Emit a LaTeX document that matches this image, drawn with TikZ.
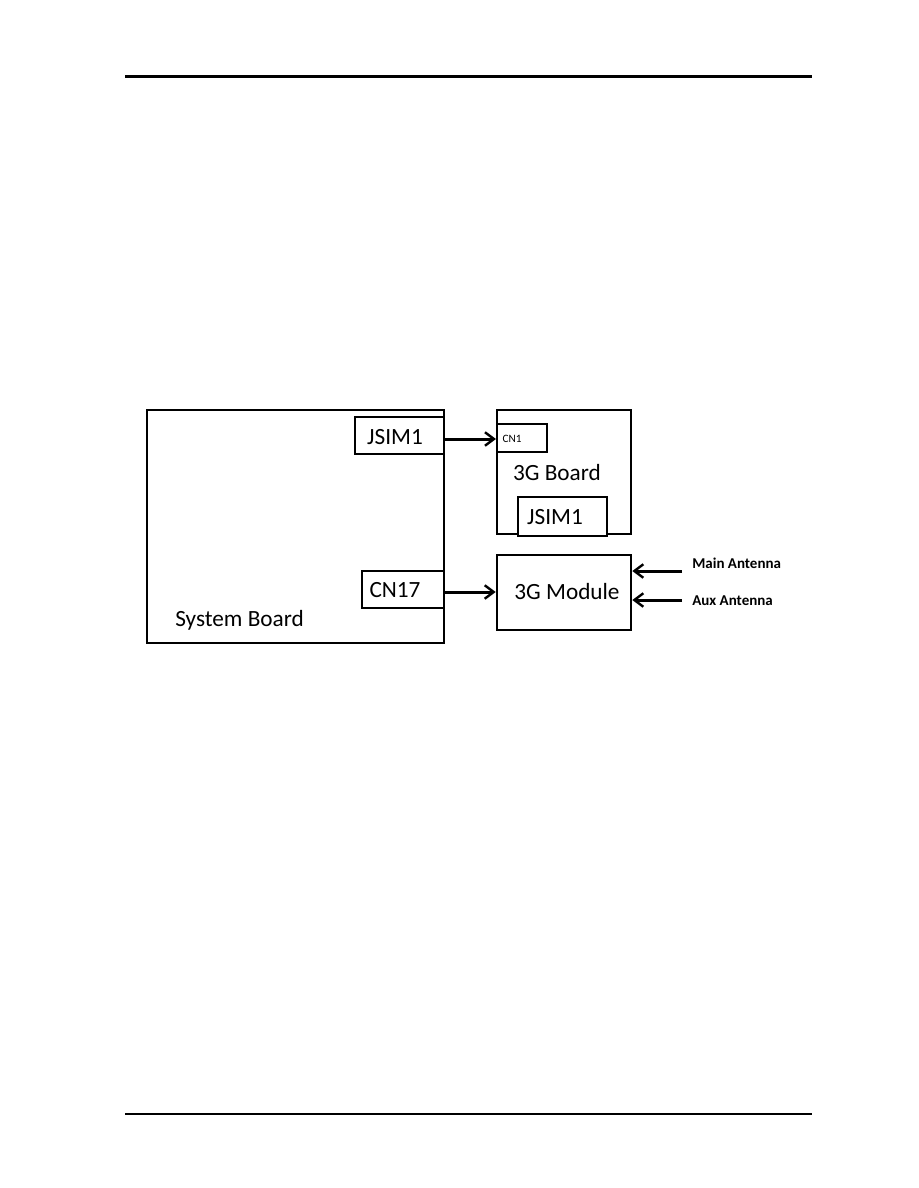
\documentclass[tikz,border=0pt]{standalone}
\usepackage{fontspec}
\setmainfont{Carlito}
\usetikzlibrary{arrows.meta}
\begin{document}
\begin{tikzpicture}[x=0.6667pt,y=-0.6667pt,font=\fontsize{15.5}{17}\selectfont,
  board/.style={draw,line width=1.8pt,inner sep=0pt},
  conn/.style={draw,line width=1.4pt,inner sep=0pt,fill=white},
  link/.style={-{Straight Barb[length=6pt,width=9pt,line width=1.6pt]},line width=2pt}]
\useasboundingbox (0,0) rectangle (918,1188);
\draw[line width=2pt] (125,76.5)--(812,76.5); \draw[line width=0.8pt] (125,1114)--(812,1114);
% system board side
\node[board,minimum width=198pt,minimum height=155.3pt] (sys) at (295.5,526.5) {};
\node[conn,minimum width=59.3pt,minimum height=24.7pt] (sysjsim) at (399.5,435.5) {};
\node (sysjsimtxt) at (395,437) {JSIM1};
\node[conn,minimum width=54.7pt,minimum height=24.7pt] (cn17) at (403,589.5) {};
\node (cn17txt) at (395,590) {CN17};
\node[anchor=west] (systxt) at (170,620) {System Board};
% 3G side
\node[board,minimum width=89.3pt,minimum height=82.7pt] (gboard) at (564,472) {};
\node[conn,minimum width=33.3pt,minimum height=18.7pt] (cn1) at (522,438) {};
\node[font=\fontsize{7.5}{8}\selectfont] (cn1txt) at (512,439) {CN1};
\node (gboardtxt) at (557,473) {3G Board};
\node[conn,minimum width=59.3pt,minimum height=26pt] (gjsim) at (562.5,516.5) {};
\node (gjsimtxt) at (555,517) {JSIM1};
\node[board,minimum width=89.3pt,minimum height=50pt] (gmod) at (564,592.5) {};
\node (gmodtxt) at (567,592) {3G Module};
% antennas
\coordinate (mainant) at (682,571); \coordinate (auxant) at (682,600);
\node[anchor=west,font=\fontsize{10}{11}\selectfont\bfseries] (maintxt) at (687,563) {Main Antenna};
\node[anchor=west,font=\fontsize{10}{11}\selectfont\bfseries] (auxtxt) at (687,601) {Aux Antenna};
\draw[link] (sysjsim.east |- cn1txt) -- (cn1.west |- cn1txt);
\draw[link] (cn17.east |- gmodtxt) -- (gmod.west |- gmodtxt);
\draw[link] (mainant) -- (mainant -| gmod.east);
\draw[link] (auxant) -- (auxant -| gmod.east);
\end{tikzpicture}
\end{document}
